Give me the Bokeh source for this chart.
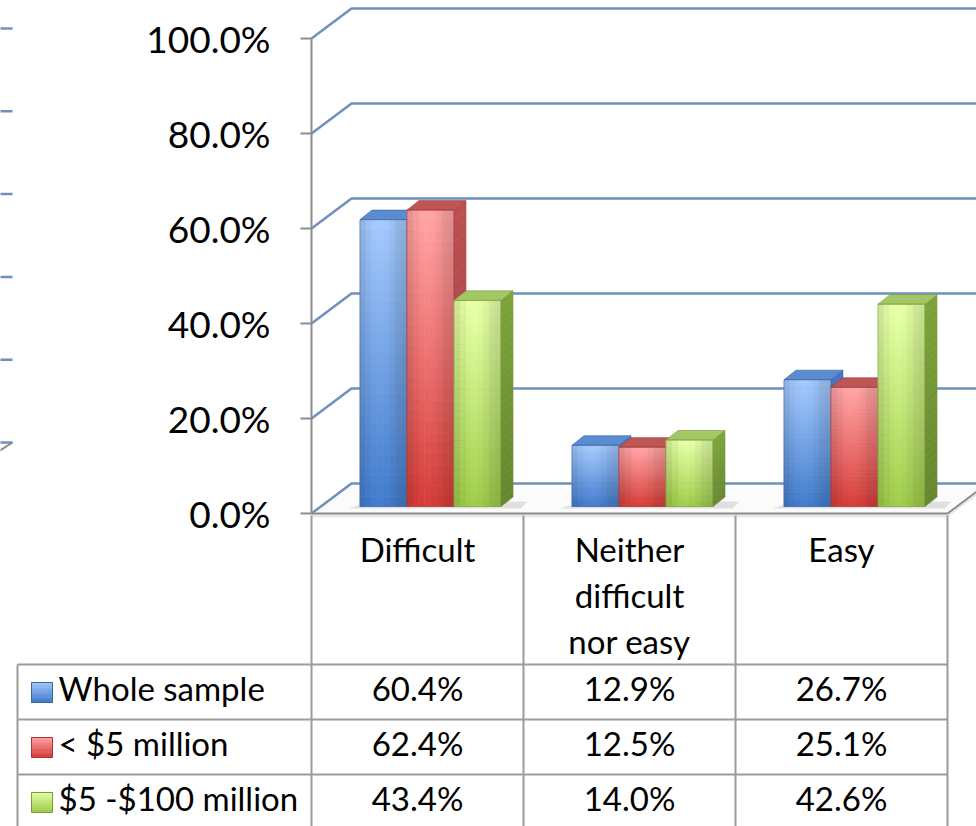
import math
from bokeh.plotting import figure
from bokeh.models import Range1d
from bokeh.core.properties import value
from bokeh.embed import file_html
from bokeh.resources import INLINE

# ---------------------------------------------------------------- data
categories = ["Difficult", "Neither difficult nor easy", "Easy"]
category_lines = [["Difficult"], ["Neither", "difficult", "nor easy"], ["Easy"]]
series_names = ["Whole sample", "< $5 million", "$5 -$100 million"]
whole_sample = [60.4, 12.9, 26.7]
under_5_million = [62.4, 12.5, 25.1]
from_5_to_100_million = [43.4, 14.0, 42.6]
series_values = [whole_sample, under_5_million, from_5_to_100_million]
y_ticks = [0, 20, 40, 60, 80, 100]
neighbour_ticks = [0, 20, 40, 60, 80, 100]

# ---------------------------------------------------------------- styling
FONT = value("Lato")
GRID_BLUE = "#7090BC"
AXIS_GREY = "#8C8C8C"
TABLE_GREY = "#9C9C9C"
AXIS_FONT_SIZE = "37px"
TABLE_FONT_SIZE = "33px"

# per series: front top, front bottom, side, top face, edge
PALETTE = [
    dict(front_top="#A3C8FB", front_bottom="#3F79C9", side="#3D69A8",
         top="#5B8CD2", edge="#3A64A0"),
    dict(front_top="#FFA3A3", front_bottom="#D33B37", side="#A84848",
         top="#BE5656", edge="#A03A38"),
    dict(front_top="#E4FFA6", front_bottom="#9CC948", side="#6F9233",
         top="#A4C766", edge="#7A9A3A"),
]

# ---------------------------------------------------------------- layout
W, H = 976, 826
X0 = 311          # pixel column of the value axis
CAT_W = 212       # pixel width of one category
Y0 = 513          # pixel row of 0 %
PPP = 4.75        # pixels per percentage point
TEXT_LIFT = 15    # baseline correction for the text glyphs, in pixels


def X(px):
    return (px - X0) / CAT_W


def Y(px):
    return (Y0 - px) / PPP


def DX(px):
    return px / CAT_W


def DY(px):
    return px / PPP


def TY(px):
    # text baseline position
    return Y(px - TEXT_LIFT)


WALL_DX, WALL_DY = DX(40), DY(30)      # depth of the floor / side wall
BAR_OFF_X, BASE = DX(13), DY(7)        # bars stand a little inside the floor
BW = DX(47)                            # width of one bar
SDX, SDY = DX(12), DY(9.5)             # depth of one bar
N_CAT = len(categories)


def hex2rgb(h):
    h = h.lstrip("#")
    return [int(h[i:i + 2], 16) for i in (0, 2, 4)]


def rgb2hex(c):
    return "#%02x%02x%02x" % tuple(max(0, min(255, int(round(v)))) for v in c)


def mix(c1, c2, t):
    a, b = hex2rgb(c1), hex2rgb(c2)
    return [a[i] + (b[i] - a[i]) * t for i in range(3)]


def shaded(rgb, k):
    return rgb2hex([v * k for v in rgb])


p = figure(width=W, height=H,
           x_range=Range1d(X(0), X(W)), y_range=Range1d(Y(H), Y(0)),
           x_axis_type=None, y_axis_type=None,
           toolbar_location=None, output_backend="svg",
           min_border=0, outline_line_color=None,
           background_fill_color="white", border_fill_color="white")
p.xgrid.visible = False
p.ygrid.visible = False

# ---------------------------------------------------------------- neighbouring panel edge (left margin)
nb_base_px, nb_ppp = 442, 4.14
nb_xs, nb_ys = [], []
for v in neighbour_ticks:
    yy = Y(nb_base_px - v * nb_ppp)
    nb_xs.append([X(0) - 0.01, X(12)])
    nb_ys.append([yy, yy])
p.multi_line(nb_xs, nb_ys, line_color=GRID_BLUE, line_width=2.5)
p.line([X(12), X(0) - 0.01], [Y(nb_base_px), Y(nb_base_px + 9)],
       line_color=AXIS_GREY, line_width=2)

# ---------------------------------------------------------------- floor
right_edge = X(W) + 0.05
p.patch([0, WALL_DX, N_CAT + WALL_DX, N_CAT],
        [0, WALL_DY, WALL_DY, 0], fill_color="#FBFBFB", line_color=None)
# thin slab under the floor's front edge
p.patch([0, N_CAT, N_CAT + WALL_DX, N_CAT + WALL_DX, N_CAT, 0],
        [0, 0, WALL_DY, WALL_DY - DY(4), -DY(4), -DY(4)],
        fill_color="#E9E9E9", line_color=None)

# ---------------------------------------------------------------- back and side wall gridlines
gx, gy = [], []
for v in y_ticks:
    gx.append([0, WALL_DX, right_edge])
    gy.append([v, v + WALL_DY, v + WALL_DY])
p.multi_line(gx, gy, line_color=GRID_BLUE, line_width=2.5)

# floor front and right edges
p.line([0, N_CAT, N_CAT + WALL_DX], [0, 0, WALL_DY],
       line_color=AXIS_GREY, line_width=2)

# value axis and its tick marks
p.line([0, 0], [0, y_ticks[-1]], line_color=AXIS_GREY, line_width=2)
p.multi_line([[X(300), 0] for _ in y_ticks], [[v, v] for v in y_ticks],
             line_color=AXIS_GREY, line_width=2)
p.text(x=[X(270)] * len(y_ticks), y=[v - DY(15) + DY(TEXT_LIFT) for v in y_ticks],
       text=["%.1f%%" % v for v in y_ticks],
       text_font=FONT, text_font_size=AXIS_FONT_SIZE, text_color="black",
       text_align="right", text_baseline="alphabetic")

# ---------------------------------------------------------------- shadows under each group
sh_xs, sh_ys = [], []
for i in range(N_CAT):
    gl = i + 0.5 - 1.5 * BW + BAR_OFF_X
    gr = gl + 3 * BW
    sh_xs.append([gl - DX(12), gr + SDX + DX(8), gr + SDX + DX(14), gl + SDX])
    sh_ys.append([BASE - DY(2), BASE - DY(2), BASE + DY(5), BASE + DY(5)])
p.patches(sh_xs, sh_ys, fill_color="#9A9A9A", fill_alpha=0.28, line_color=None)

# ---------------------------------------------------------------- 3-D bars
NROW, NCOL = 28, 8
for s, vals in enumerate(series_values):
    pal = PALETTE[s]
    L, R, T, B, C = [], [], [], [], []
    side_xs, side_ys, side_c = [], [], []
    top_xs, top_ys = [], []
    outline_l, outline_r, outline_t = [], [], []
    for i, v in enumerate(vals):
        left = i + 0.5 - 1.5 * BW + s * BW + BAR_OFF_X
        right = left + BW
        top = BASE + v
        for r in range(NROW):
            t0 = r / NROW
            t1 = (r + 1) / NROW
            base_rgb = mix(pal["front_top"], pal["front_bottom"], (t0 + t1) / 2)
            for c in range(NCOL):
                u = (c + 0.5) / NCOL
                k = 0.88 + 0.14 * math.sin(math.pi * min(1.0, u * 1.15))
                L.append(left + BW * c / NCOL)
                R.append(left + BW * (c + 1) / NCOL)
                T.append(top - (top - BASE) * t0)
                B.append(top - (top - BASE) * t1)
                C.append(shaded(base_rgb, k))
        # side face, darker toward the bottom
        for r in range(NROW):
            t0 = r / NROW
            t1 = (r + 1) / NROW
            ya = top - (top - BASE) * t0
            yb = top - (top - BASE) * t1
            side_xs.append([right, right + SDX, right + SDX, right])
            side_ys.append([yb, yb + SDY, ya + SDY, ya])
            side_c.append(shaded(hex2rgb(pal["side"]), 1.12 - 0.2 * (t0 + t1) / 2))
        top_xs.append([left, right, right + SDX, left + SDX])
        top_ys.append([top, top, top + SDY, top + SDY])
        outline_l.append(left)
        outline_r.append(right)
        outline_t.append(top)
    p.quad(left=L, right=R, top=T, bottom=B, fill_color=C, line_color=C,
           line_width=0.6)
    p.patches(side_xs, side_ys, fill_color=side_c, line_color=side_c,
              line_width=0.6)
    p.patches(top_xs, top_ys, fill_color=pal["top"], line_color=pal["edge"],
              line_width=1, line_alpha=0.6)
    p.quad(left=outline_l, right=outline_r, top=outline_t,
           bottom=[BASE] * len(outline_t), fill_color=None,
           line_color=pal["edge"], line_alpha=0.55, line_width=1)

# ---------------------------------------------------------------- data table
ROW_TOP = [664, 719, 774]
ROW_H = 55
col_edges = list(range(N_CAT + 1))
t_xs, t_ys = [], []
# vertical lines of the category columns (from the floor edge downwards)
for k in col_edges:
    t_xs.append([k, k])
    t_ys.append([Y(Y0 + 2), Y(H + 10)])
# left border of the series labels
t_xs.append([X(17), X(17)])
t_ys.append([Y(ROW_TOP[0]), Y(H + 10)])
# horizontal row lines
for rt in ROW_TOP + [ROW_TOP[-1] + ROW_H]:
    t_xs.append([X(17), N_CAT])
    t_ys.append([Y(rt), Y(rt)])
p.multi_line(t_xs, t_ys, line_color=TABLE_GREY, line_width=2)

# category headings
hx, hy, ht = [], [], []
line_base = [563, 609, 655]
for i, lines in enumerate(category_lines):
    for j, txt in enumerate(lines):
        hx.append(i + 0.5)
        hy.append(TY(line_base[j]))
        ht.append(txt)
p.text(x=hx, y=hy, text=ht, text_font=FONT, text_font_size=TABLE_FONT_SIZE,
       text_color="black", text_align="center", text_baseline="alphabetic")

# values
vx, vy, vt = [], [], []
for s, vals in enumerate(series_values):
    for i, v in enumerate(vals):
        vx.append(i + 0.5)
        vy.append(TY(ROW_TOP[s] + 38))
        vt.append("%.1f%%" % v)
p.text(x=vx, y=vy, text=vt, text_font=FONT, text_font_size=TABLE_FONT_SIZE,
       text_color="black", text_align="center", text_baseline="alphabetic")

# series labels with legend keys
p.text(x=[X(58)] * 3, y=[TY(rt + 38) for rt in ROW_TOP], text=series_names,
       text_font=FONT, text_font_size=TABLE_FONT_SIZE, text_color="black",
       text_align="left", text_baseline="alphabetic")
kL, kR, kT, kB, kC = [], [], [], [], []
for s, rt in enumerate(ROW_TOP):
    pal = PALETTE[s]
    nk = 8
    for r in range(nk):
        t = (r + 0.5) / nk
        kL.append(X(31))
        kR.append(X(52))
        kT.append(Y(rt + 18 + 20 * r / nk))
        kB.append(Y(rt + 18 + 20 * (r + 1) / nk))
        kC.append(rgb2hex(mix(pal["front_top"], pal["front_bottom"], t)))
p.quad(left=kL, right=kR, top=kT, bottom=kB, fill_color=kC, line_color=kC,
       line_width=0.5)
p.quad(left=[X(31)] * 3, right=[X(52)] * 3,
       top=[Y(rt + 18) for rt in ROW_TOP], bottom=[Y(rt + 38) for rt in ROW_TOP],
       fill_color=None, line_color=[pal["edge"] for pal in PALETTE],
       line_width=1)

open("out.html", "w").write(file_html(p, INLINE))
